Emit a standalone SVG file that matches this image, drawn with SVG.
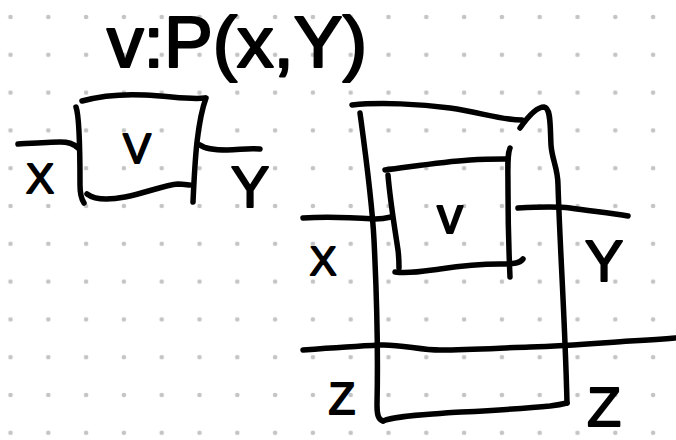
<svg xmlns="http://www.w3.org/2000/svg" width="676" height="440" viewBox="0 0 676 440">
  <defs>
    <pattern id="dot-grid" x="10.5" y="17" width="37.8" height="37.8" patternUnits="userSpaceOnUse">
      <circle cx="0" cy="0" r="2.3" fill="#c4c4c4"/>
      <circle cx="37.8" cy="0" r="2.3" fill="#c4c4c4"/>
      <circle cx="0" cy="37.8" r="2.3" fill="#c4c4c4"/>
      <circle cx="37.8" cy="37.8" r="2.3" fill="#c4c4c4"/>
    </pattern>
    <style>
      .ink { fill: none; stroke: #000; stroke-width: 5.5; stroke-linecap: round; stroke-linejoin: round; }
      .hand { font-family: "Liberation Sans", "DejaVu Sans", sans-serif; fill: #000; stroke: #000; stroke-width: 1.8; stroke-linejoin: round; text-anchor: middle; }
    </style>
  </defs>

  <!-- dotted paper -->
  <rect width="676" height="440" fill="#fff"/>
  <rect width="676" height="440" fill="url(#dot-grid)"/>

  <!-- heading -->
  <g id="title">
    <text x="107" y="67" class="hand" style="text-anchor:start;stroke-width:2.2" font-size="72" textLength="260" lengthAdjust="spacingAndGlyphs">v:P(x,Y)</text>
  </g>

  <!-- single box v -->
  <g id="box-v">
    <path class="ink" d="M82,101 C100,96 125,94 145,95 C170,96 190,100 205,98"/>
    <path class="ink" d="M76,107 C79,115 80,150 80,185 C80,195 82,200 84,203"/>
    <path class="ink" d="M87,194 C95,200 110,200 125,197 C145,193 165,185 178,184 C184,184 188,185 190,185"/>
    <path class="ink" d="M206,98 C203,106 199,125 197,142 C195,160 194,180 193,202"/>
    <text x="137" y="163" class="hand" font-size="42">V</text>
  </g>

  <!-- nested boxes -->
  <g id="outer-box">
    <path class="ink" d="M352,105 C380,102 420,104 450,108 C480,112 500,120 522,120"/>
    <path class="ink" d="M520,128 C527,118 536,107 544,107 C551,108 550,125 551,145 C552,160 558,168 558,185 C560,250 565,320 567,403"/>
    <path class="ink" d="M360,113 C365,150 372,200 374,240 C377,300 378,360 377,405 C377,414 378,420 383,421"/>
    <path class="ink" d="M383,421 C395,416 420,415 445,413 C480,411 520,409 550,406 C558,405 563,404 567,403"/>
  </g>
  <g id="inner-box">
    <path class="ink" d="M385,170 C410,167 440,162 470,160 C485,159 495,159 505,159"/>
    <path class="ink" d="M510,148 C507,155 508,165 508,190 C508,230 509,255 510,277"/>
    <path class="ink" d="M388,175 C390,200 395,230 398,250 C399,258 399,264 399,268"/>
    <path class="ink" d="M395,272 C410,274 425,271 440,269 C460,266 480,264 500,264 C515,264 520,263 523,259"/>
    <text x="450" y="233" class="hand" font-size="52">v</text>
  </g>

  <!-- wires -->
  <g id="connectors">
    <path class="ink" d="M18,144 C35,143 50,142 60,142 C68,142 73,143 78,148"/>
    <path class="ink" d="M200,145 C204,148 210,150 227,150 C240,150 245,148 260,149"/>
    <path class="ink" d="M303,218 C330,216 360,218 375,219 C382,219 387,218 391,217"/>
    <path class="ink" d="M518,208 C535,207 555,206 570,208 C590,211 610,213 628,216"/>
    <path class="ink" d="M303,350 C330,348 360,346 380,345 C400,344 420,350 440,350 C470,350 500,348 530,347 C570,346 600,343 630,341 C650,340 665,339 675,338"/>
  </g>

  <!-- wire labels -->
  <g id="labels">
    <text x="40" y="193" class="hand" font-size="42">X</text>
    <text x="250" y="207" class="hand" font-size="58">Y</text>
    <text x="323" y="275" class="hand" font-size="40">X</text>
    <text x="604" y="281" class="hand" font-size="58">Y</text>
    <text x="342" y="414" class="hand" font-size="44">Z</text>
    <text x="604" y="426" class="hand" font-size="56">Z</text>
  </g>
</svg>
